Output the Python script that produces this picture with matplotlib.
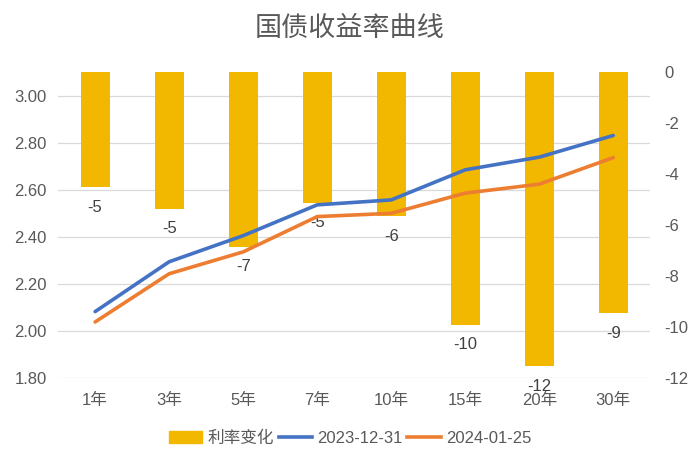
import numpy as np
import matplotlib.pyplot as plt
from matplotlib.patches import Patch
from matplotlib.lines import Line2D

plt.rcParams['font.family'] = ['Liberation Sans', 'Noto Sans CJK SC']
plt.rcParams['axes.unicode_minus'] = False

# data
tenors = ['1年', '3年', '5年', '7年', '10年', '15年', '20年', '30年']
chg = [-4.52, -5.35, -6.85, -5.12, -5.65, -9.91, -11.55, -9.46]  # bp
y2023 = [2.082, 2.294, 2.405, 2.536, 2.557, 2.685, 2.739, 2.831]
y2024 = [2.038, 2.243, 2.336, 2.486, 2.500, 2.586, 2.624, 2.737]

gray = '#595959'
gold = '#F2B800'
blue = '#4472C4'
orange = '#ED7D31'

fig = plt.figure(figsize=(7, 4.66), dpi=100)
ax = fig.add_axes([0.083, 0.189, 0.846, 0.656])
x = np.arange(len(tenors))

# left axis: grid + ticks
ax.set_ylim(1.80, 3.10)
ax.set_yticks(np.arange(1.80, 3.01, 0.20))
ax.set_yticklabels(['%.2f' % v for v in np.arange(1.80, 3.01, 0.20)])
ax.grid(axis='y', color='#D9D9D9', linewidth=0.9)
ax.set_axisbelow(True)
ax.set_xlim(-0.5, len(tenors) - 0.5)
ax.set_xticks(x)
ax.set_xticklabels(tenors)

# bars on the right axis
axb = ax.twinx()
axb.set_ylim(-12, 0)
axb.set_yticks(range(-12, 1, 2))
bars = axb.bar(x, chg, width=0.39, color=gold)
axb.bar_label(bars, labels=['%.0f' % v for v in chg], padding=9,
              fontsize=12, color='#404040')

# lines on top
axl = ax.twinx()
axl.set_ylim(1.80, 3.10)
axl.plot(x, y2023, color=blue, lw=2.6, solid_capstyle='round')
axl.plot(x, y2024, color=orange, lw=2.6, solid_capstyle='round')
axl.set_yticks([])

for a in (ax, axb, axl):
    for s in a.spines.values():
        s.set_visible(False)
    a.tick_params(length=0, colors=gray, labelsize=12)
ax.tick_params(axis='x', pad=11)
ax.tick_params(axis='y', pad=8)
axb.tick_params(axis='y', pad=10)

fig.suptitle('国债收益率曲线', y=0.965, fontsize=19.5, color=gray)

handles = [Patch(color=gold), Line2D([], [], color=blue, lw=2.6),
           Line2D([], [], color=orange, lw=2.6)]
fig.legend(handles, ['利率变化', '2023-12-31', '2024-01-25'], loc='center',
           bbox_to_anchor=(0.5, 0.06), ncol=3, frameon=False,
           fontsize=12, labelcolor=gray, handlelength=2.0,
           handletextpad=0.3, columnspacing=0.3)

fig.savefig('out.png')
